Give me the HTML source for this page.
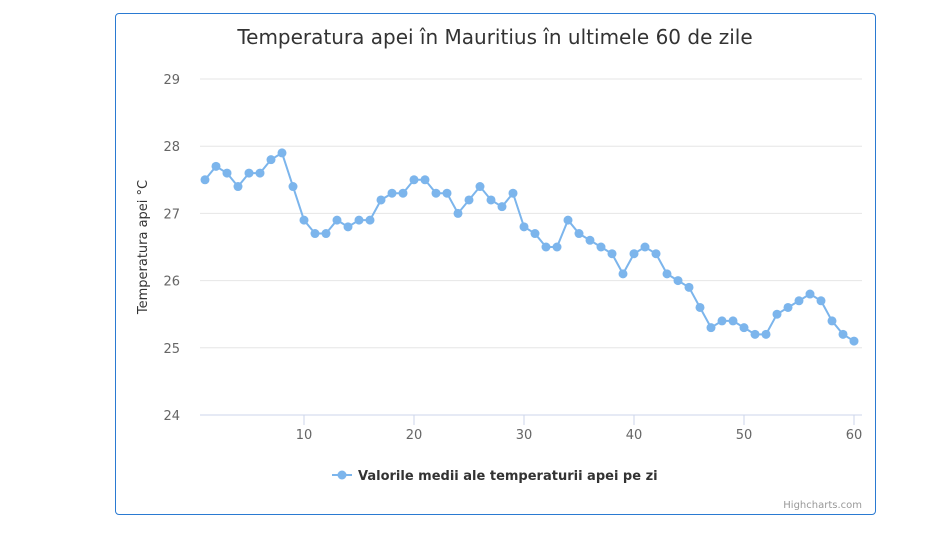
<!DOCTYPE html>
<html><head><meta charset="utf-8"><style>
body{margin:0;background:#fff;width:950px;height:536px;overflow:hidden;font-family:"DejaVu Sans","Liberation Sans",sans-serif}
#frame{position:absolute;left:115px;top:13px;width:759px;height:500px;border:1px solid #2a7ad2;border-radius:4px}
</style></head><body>
<div id="frame"></div>
<svg id="chart" width="950" height="536" style="position:absolute;left:0;top:0">
<text x="495" y="44" text-anchor="middle" font-size="20" fill="#333">Temperatura apei în Mauritius în ultimele 60 de zile</text>
<text transform="translate(147,247) rotate(-90)" text-anchor="middle" font-size="13" fill="#333">Temperatura apei °C</text>
<g id="grid"></g><g id="series"></g>
<g>
<line x1="332" y1="475" x2="352" y2="475" stroke="#7cb5ec" stroke-width="2"/>
<circle cx="342" cy="475" r="4.5" fill="#7cb5ec"/>
<text x="358" y="480" font-size="13" font-weight="bold" fill="#333">Valorile medii ale temperaturii apei pe zi</text>
</g>
<text x="862" y="508" text-anchor="end" font-size="10" fill="#999">Highcharts.com</text>
</svg>
<script>
const days=[1,2,3,4,5,6,7,8,9,10,11,12,13,14,15,16,17,18,19,20,21,22,23,24,25,26,27,28,29,30,31,32,33,34,35,36,37,38,39,40,41,42,43,44,45,46,47,48,49,50,51,52,53,54,55,56,57,58,59,60];
const temps=[27.5,27.7,27.6,27.4,27.6,27.6,27.8,27.9,27.4,26.9,26.7,26.7,26.9,26.8,26.9,26.9,27.2,27.3,27.3,27.5,27.5,27.3,27.3,27.0,27.2,27.4,27.2,27.1,27.3,26.8,26.7,26.5,26.5,26.9,26.7,26.6,26.5,26.4,26.1,26.4,26.5,26.4,26.1,26.0,25.9,25.6,25.3,25.4,25.4,25.3,25.2,25.2,25.5,25.6,25.7,25.8,25.7,25.4,25.2,25.1];
const yTicks=[24,25,26,27,28,29];
const xTicks=[10,20,30,40,50,60];
const NS="http://www.w3.org/2000/svg";
const X=d=>304+(d-10)*11;
const Y=v=>415-(v-24)*67.2;
const grid=document.getElementById('grid'),ser=document.getElementById('series');
function mk(t,a,p){const e=document.createElementNS(NS,t);for(const k in a)e.setAttribute(k,a[k]);p.appendChild(e);return e;}
yTicks.forEach(v=>{
 const l=mk('line',{x1:200,x2:862,y1:Y(v),y2:Y(v),stroke:v===24?'#ccd6eb':'#e6e6e6'},grid);
 
 
 const t=mk('text',{x:180,y:Y(v)+5,'text-anchor':'end','font-size':13,fill:'#666'},grid);t.textContent=v;
 
 
});
xTicks.forEach(d=>{
 mk('line',{x1:X(d),x2:X(d),y1:415,y2:425,stroke:'#ccd6eb'},grid);
 const t=mk('text',{x:X(d),y:439,'text-anchor':'middle','font-size':13,fill:'#666'},grid);t.textContent=d;
 
 
});
const pts=days.map((d,i)=>X(d)+','+Y(temps[i])).join(' ');
const pl=mk('polyline',{points:pts,fill:'none',stroke:'#7cb5ec','stroke-width':2},ser);


days.forEach((d,i)=>{
 const c=mk('circle',{cx:X(d),cy:Y(temps[i]),r:4.5,fill:'#7cb5ec'},ser);
 
 
});
</script>
</body></html>
